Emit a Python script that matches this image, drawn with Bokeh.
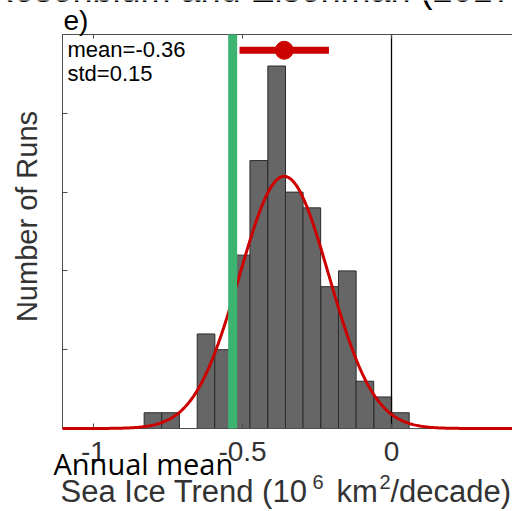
import numpy as np
from bokeh.plotting import figure
from bokeh.models import (Range1d, LinearAxis, FixedTicker, Label, NumeralTickFormatter,
                          CustomLabelingPolicy)
from bokeh.embed import file_html
from bokeh.resources import INLINE

# ---- data ----
bin_left = [-0.830, -0.771, -0.712, -0.652, -0.593, -0.534, -0.475, -0.415,
            -0.356, -0.297, -0.237, -0.178, -0.119, -0.059, 0.000]
bin_width = 0.0593
run_counts = [1, 1, 0, 6, 5, 11, 17, 23, 15, 14, 9, 10, 3, 2, 1]

trend_mean = -0.36
trend_std = 0.15
fit_peak = 16.0          # height of fitted normal curve (runs)
obs_trend = -0.533       # observed trend (green line)
ebar_y = 24              # vertical position of mean +/- std marker

x_ticks = [-1, -0.5, 0]
y_ticks = [0, 5, 10, 15, 20, 25]

title_text = "Rosenblum and Eisenman (2017)"
panel_text = "e)"
stats_lines = ["mean=-0.36", "std=0.15"]
ylabel_text = "Number of Runs"
overlay_text = "Annual mean"

# ---- axes box (data) and its place on the canvas (pixels) ----
X_LEFT, X_RIGHT = -1.104, 0.406
Y_BOTTOM, Y_TOP = 0, 25
W, H = 512, 511
BL, BR, BT, BB = 62, 512, 34, 428      # box edges in canvas pixels

sx = (BR - BL) / (X_RIGHT - X_LEFT)
sy = (BB - BT) / (Y_TOP - Y_BOTTOM)
CX0 = X_LEFT - BL / sx
CX1 = X_RIGHT + (W - BR) / sx
CY0 = Y_BOTTOM - (H - BB) / sy
CY1 = Y_TOP + BT / sy

def px2x(px):
    return CX0 + px / sx

def py2y(py):
    return CY1 - py / sy

p = figure(width=W, height=H, output_backend="svg", toolbar_location=None,
           x_range=Range1d(CX0, CX1), y_range=Range1d(CY0, CY1),
           min_border_left=0, min_border_right=0, min_border_top=0, min_border_bottom=0)
p.title.visible = False
p.outline_line_color = None
p.grid.visible = False
p.background_fill_color = "white"
p.border_fill_color = "white"

AX_COL = "#4d4d4d"
TXT_GRAY = "#333333"
FONT = "Liberation Sans"

# bottom axis
xa = p.xaxis[0]
xa.fixed_location = Y_BOTTOM
xa.bounds = (X_LEFT, X_RIGHT)
xa.ticker = FixedTicker(ticks=x_ticks)
xa.formatter = NumeralTickFormatter(format="0.[0]")
xa.major_tick_in = 5
xa.major_tick_out = 0
xa.minor_tick_line_color = None
xa.axis_line_color = AX_COL
xa.major_tick_line_color = AX_COL
xa.major_label_text_font = FONT
xa.major_label_text_font_size = "28px"
xa.major_label_text_color = TXT_GRAY
xa.major_label_standoff = 13

# left axis
ya = p.yaxis[0]
ya.fixed_location = X_LEFT
ya.bounds = (Y_BOTTOM, Y_TOP)
ya.ticker = FixedTicker(ticks=y_ticks)
ya.major_tick_in = 5
ya.major_tick_out = 0
ya.minor_tick_line_color = None
ya.axis_line_color = AX_COL
ya.major_tick_line_color = AX_COL
ya.major_label_policy = CustomLabelingPolicy(code="return new Set()")

# top axis
ta = LinearAxis(fixed_location=Y_TOP, bounds=(X_LEFT, X_RIGHT),
                ticker=FixedTicker(ticks=x_ticks), major_tick_in=4, major_tick_out=0,
                minor_tick_line_color=None, axis_line_color=AX_COL,
                major_tick_line_color=AX_COL,
                major_label_policy=CustomLabelingPolicy(code="return new Set()"))
p.add_layout(ta, "above")

# histogram
left = np.array(bin_left)
p.quad(left=left, right=left + bin_width, bottom=0, top=run_counts,
       fill_color="#666666", line_color="#2b2b2b", line_width=1)

# zero line
p.segment(x0=[0], x1=[0], y0=[Y_BOTTOM], y1=[Y_TOP], line_color="black", line_width=1.3)

# fitted normal curve
xs = np.linspace(X_LEFT, X_RIGHT, 400)
ys = fit_peak * np.exp(-0.5 * ((xs - trend_mean) / trend_std) ** 2)
p.line(xs, ys, line_color="#cc0000", line_width=3, level="overlay")

# observed trend
p.segment(x0=[obs_trend], x1=[obs_trend], y0=[Y_BOTTOM], y1=[Y_TOP],
          line_color="#3cb371", line_width=9, level="overlay")

# mean +/- std
p.segment(x0=[trend_mean - trend_std], x1=[trend_mean + trend_std], y0=[ebar_y], y1=[ebar_y],
          line_color="#cc0000", line_width=7, level="overlay")
p.scatter(x=[trend_mean], y=[ebar_y], size=18, fill_color="#cc0000", line_color="#cc0000",
          level="overlay")

def lab(text, px, py, size, color="black", font=FONT, align="left", baseline="alphabetic", angle=0):
    p.add_layout(Label(x=px2x(px), y=py2y(py), text=text, text_font=font,
                       text_font_size=f"{size}px", text_color=color, text_align=align,
                       text_baseline=baseline, angle=angle))

# texts (vertical positions compensate for how labels sit on their anchor)
lab(title_text, 256, -11, 36, align="center")
lab(panel_text, 63, 20, 28)
lab(stats_lines[0], 67, 49, 22)
lab(stats_lines[1], 67, 73, 22)
lab(ylabel_text, 26, 216, 29, color=TXT_GRAY, align="center", baseline="middle", angle=np.pi / 2)

# x-axis label pieces (with superscripts)
lab("Sea Ice Trend (10", 60, 491, 31, color=TXT_GRAY)
lab("6", 312, 481, 20, color=TXT_GRAY)
lab("km", 336, 491, 31, color=TXT_GRAY)
lab("2", 379, 481, 20, color=TXT_GRAY)
lab("/decade)", 390, 491, 31, color=TXT_GRAY)

lab(overlay_text, 53, 463, 29, font="Open Sans")

open("out.html", "w").write(file_html(p, INLINE))
